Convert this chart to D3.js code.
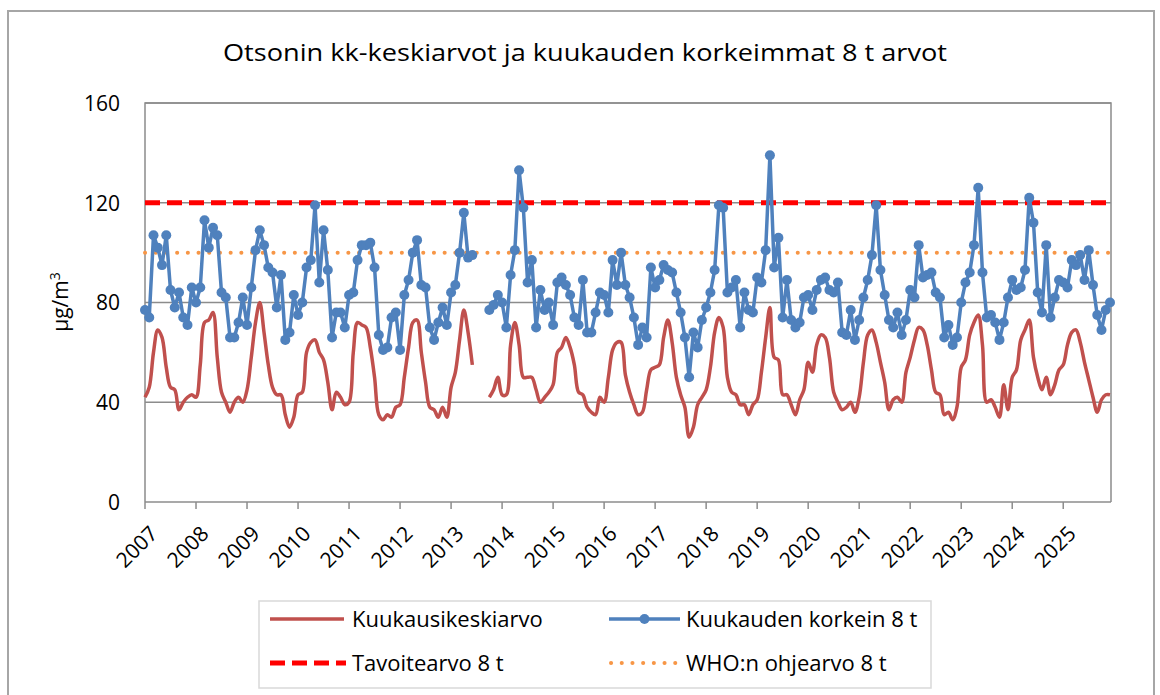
<!DOCTYPE html>
<html>
<head>
<meta charset="utf-8">
<script src="https://cdn.jsdelivr.net/npm/d3@7"></script>
<style>
  body { margin: 0; background: #fff; }
  text { font-family: "Open Sans", "Noto Sans", sans-serif; fill: #000; }
</style>
</head>
<body>
<svg width="1160" height="695"></svg>
<script>
// vuodet (x-akselin nimiot, yksi joka 12. kuukausi)
const vuodet = [2007,2008,2009,2010,2011,2012,2013,2014,2015,2016,2017,2018,2019,2020,2021,2022,2023,2024,2025];

// kuukausikeskiarvot, µg/m3 (tammi..joulu / vuosi)
const kuukausikeskiarvo = [
  42,46,60,69,66,54,46,45,37,40,42,43,
  42,55,72,73,76,58,44,40,36,40,42,40,
  45,58,72,80,68,55,46,43,43,35,30,34,
  43,44,60,64,65,60,57,48,37,44,42,39,
  40,60,72,71,70,62,50,35,33,35,34,38,
  39,50,62,72,73,60,48,38,37,34,38,34,
  46,52,65,77,68,55,null,null,null,42,45,50,
  43,43,63,72,63,50,50,50,45,40,42,44,
  47,60,62,66,62,55,44,43,38,36,35,42,
  40,50,61,64,64,51,44,39,35,36,45,53,
  54,55,66,73,64,50,43,38,26,30,39,42,
  45,54,68,74,70,50,44,43,39,39,35,39,
  41,52,66,78,58,57,43,43,39,35,41,45,
  56,52,63,67,66,58,44,40,37,38,40,36,
  42,56,67,69,64,56,48,37,41,42,40,52,
  58,65,70,69,63,53,44,43,35,36,33,38,
  54,57,67,72,75,63,40,41,38,34,47,37,
  50,53,65,69,73,58,50,45,50,43,47,53,
  55,63,68,69,64,56,49,42,36,41,43,43
];

// kuukauden korkein 8 t keskiarvo, µg/m3
const korkein8t = [
  77,74,107,102,95,107,85,78,84,74,71,86,
  80,86,113,102,110,107,84,82,66,66,72,82,
  71,86,101,109,103,94,92,78,91,65,68,83,
  75,80,94,97,119,88,109,93,66,76,76,70,
  83,84,97,103,103,104,94,67,61,62,74,76,
  61,83,89,100,105,87,86,70,65,72,78,71,
  84,87,100,116,98,99,null,null,null,77,79,83,
  80,70,91,101,133,118,88,97,70,85,77,80,
  71,88,90,87,83,74,71,89,68,68,76,84,
  83,76,97,87,100,87,82,74,63,70,66,94,
  86,89,95,93,92,84,76,66,50,68,62,73,
  78,84,93,119,118,84,86,89,70,84,77,76,
  90,88,101,139,94,106,74,89,73,70,72,82,
  83,77,85,89,90,85,84,88,68,67,77,65,
  73,82,89,99,119,93,83,73,70,76,67,73,
  85,82,103,90,91,92,84,82,66,71,63,66,
  80,88,92,103,126,92,74,75,72,65,72,82,
  89,85,86,93,122,112,84,76,103,74,82,89,
  88,86,97,95,99,89,101,87,75,69,77,80
];

const tavoitearvo = 120;   // tavoitearvo 8 t
const whoOhjearvo = 100;   // WHO:n ohjearvo 8 t
const yTicks = [0,40,80,120,160];

const svg = d3.select("svg");
const PL = 145, PR = 1111, PT = 103, PB = 502; // piirtoalue

const x = d3.scaleLinear().domain([0, korkein8t.length - 1]).range([PL, 1110]);
const y = d3.scaleLinear().domain([0, 160]).range([PB, PT]);

// ulkoreuna
svg.append("rect")
  .attr("x", 8).attr("y", 11).attr("width", 1146).attr("height", 700)
  .attr("fill", "none").attr("stroke", "#a6a6a6").attr("stroke-width", 2);

// otsikko
svg.append("text")
  .attr("x", 585).attr("y", 61)
  .attr("text-anchor", "middle")
  .attr("font-size", 24)
  .attr("textLength", 724).attr("lengthAdjust", "spacingAndGlyphs")
  .text("Otsonin kk-keskiarvot ja kuukauden korkeimmat 8 t arvot");

// vaakaviivat
svg.append("g").selectAll("line")
  .data(yTicks.filter(d => d > 0))
  .join("line")
  .attr("x1", PL).attr("x2", PR)
  .attr("y1", d => y(d)).attr("y2", d => y(d))
  .attr("stroke", "#8c8c8c").attr("stroke-width", 1.5);

// y-akseli
const yAxis = svg.append("g")
  .attr("transform", "translate(" + PL + ",0)")
  .call(d3.axisLeft(y).tickValues(yTicks).tickSize(0).tickPadding(25));
yAxis.select(".domain").remove();
yAxis.selectAll("text").attr("font-size", 21).attr("dy", "0.35em")
  .style("font-family", "'Open Sans', sans-serif");

// piirtoalueen reunat
svg.append("path")
  .attr("d", "M" + PL + "," + PB + "V" + PT + "H" + PR + "V" + PB)
  .attr("fill", "none").attr("stroke", "#8c8c8c").attr("stroke-width", 1.5);

// x-akseli, vuosien jakoviivat
const yearTicks = vuodet.map((v, k) => k * 12);
svg.append("line")
  .attr("x1", PL).attr("x2", PR).attr("y1", PB).attr("y2", PB)
  .attr("stroke", "#8c8c8c").attr("stroke-width", 1.5);
svg.append("g").selectAll("line")
  .data(yearTicks)
  .join("line")
  .attr("x1", d => x(d)).attr("x2", d => x(d))
  .attr("y1", PB).attr("y2", PB + 7)
  .attr("stroke", "#8c8c8c").attr("stroke-width", 1.5);
svg.append("g").selectAll("text")
  .data(vuodet)
  .join("text")
  .attr("text-anchor", "end")
  .attr("font-size", 21)
  .attr("transform", (d, k) => "translate(" + (x(k * 12) + 14) + "," + (PB + 33) + ") rotate(-45)")
  .text(d => d);

// y-akselin otsikko
svg.append("text")
  .attr("transform", "translate(68,302) rotate(-90)")
  .attr("text-anchor", "middle")
  .attr("font-size", 21)
  .html("µg/m<tspan dy='-8' font-size='14'>3</tspan>");

// tavoitearvo ja WHO:n ohjearvo
svg.append("line")
  .attr("x1", PL).attr("x2", PR).attr("y1", y(whoOhjearvo)).attr("y2", y(whoOhjearvo))
  .attr("stroke", "#f79646").attr("stroke-width", 4)
  .attr("stroke-linecap", "round").attr("stroke-dasharray", "0.1,10.6");
svg.append("line")
  .attr("x1", PL).attr("x2", PR).attr("y1", y(tavoitearvo)).attr("y2", y(tavoitearvo))
  .attr("stroke", "#ff0000").attr("stroke-width", 5)
  .attr("stroke-dasharray", "15,7");

// kuukausikeskiarvo, pehmennetty viiva
const lineKa = d3.line()
  .defined(d => d != null)
  .x((d, i) => x(i)).y(d => y(d))
  .curve(d3.curveCatmullRom.alpha(0.5));
svg.append("path")
  .attr("d", lineKa(kuukausikeskiarvo))
  .attr("fill", "none").attr("stroke", "#c0504d").attr("stroke-width", 3.5)
  .attr("stroke-linejoin", "round");

// korkein 8 t, viiva + pallot
const lineMax = d3.line()
  .defined(d => d != null)
  .x((d, i) => x(i)).y(d => y(d));
svg.append("path")
  .attr("d", lineMax(korkein8t))
  .attr("fill", "none").attr("stroke", "#4f81bd").attr("stroke-width", 3.5)
  .attr("stroke-linejoin", "round");
svg.append("g").selectAll("circle")
  .data(korkein8t.map((v, i) => ({ i: i, v: v })).filter(d => d.v != null))
  .join("circle")
  .attr("cx", d => x(d.i)).attr("cy", d => y(d.v))
  .attr("r", 5).attr("fill", "#4f81bd");

// selite
const leg = svg.append("g");
leg.append("rect")
  .attr("x", 259).attr("y", 601).attr("width", 672).attr("height", 87)
  .attr("fill", "#fff").attr("stroke", "#d9d9d9").attr("stroke-width", 1.5);

const legRivit = [
  { x1: 270, x2: 344, y: 619, tx: 352, nimi: "Kuukausikeskiarvo", tyyppi: "ka" },
  { x1: 609, x2: 680, y: 619, tx: 686, nimi: "Kuukauden korkein 8 t", tyyppi: "max" },
  { x1: 270, x2: 346, y: 663, tx: 352, nimi: "Tavoitearvo 8 t", tyyppi: "tavoite" },
  { x1: 611, x2: 679, y: 663, tx: 686, nimi: "WHO:n ohjearvo 8 t", tyyppi: "who" }
];
legRivit.forEach(function(r) {
  const l = leg.append("line")
    .attr("x1", r.x1).attr("x2", r.x2).attr("y1", r.y).attr("y2", r.y);
  if (r.tyyppi == "ka") l.attr("stroke", "#c0504d").attr("stroke-width", 3.5);
  if (r.tyyppi == "max") {
    l.attr("stroke", "#4f81bd").attr("stroke-width", 3.5);
    leg.append("circle").attr("cx", (r.x1 + r.x2) / 2).attr("cy", r.y).attr("r", 5).attr("fill", "#4f81bd");
  }
  if (r.tyyppi == "tavoite") l.attr("stroke", "#ff0000").attr("stroke-width", 5).attr("stroke-dasharray", "15,7");
  if (r.tyyppi == "who") l.attr("stroke", "#f79646").attr("stroke-width", 4)
    .attr("stroke-linecap", "round").attr("stroke-dasharray", "0.1,10.6");
  leg.append("text")
    .attr("x", r.tx).attr("y", r.y).attr("dy", "0.35em")
    .attr("font-size", 22)
    .text(r.nimi);
});
</script>
</body>
</html>
